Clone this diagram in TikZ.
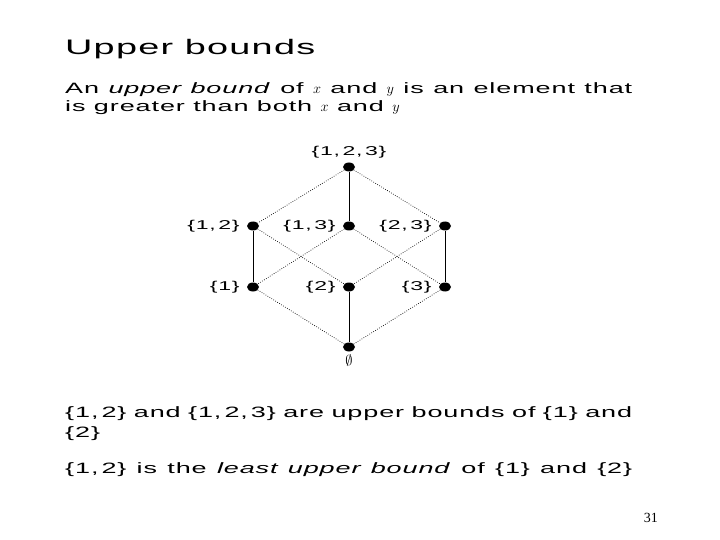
\documentclass[tikz,border=0pt]{standalone}
\usepackage{fontspec}
\setmainfont[FakeStretch=1.8,LetterSpace=6]{Liberation Sans}
\newfontfamily\pagefont{Liberation Serif}
\usetikzlibrary{positioning,shapes.geometric}

\tikzset{
  slidetitle/.style={anchor=base west, inner sep=0pt, font=\fontsize{21}{25}\selectfont},
  slidetext/.style={anchor=base west, inner sep=0pt, font=\fontsize{15}{19}\selectfont},
  vertex/.style={ellipse, fill=black, inner sep=0pt, minimum width=12pt, minimum height=9pt},
  setlabel/.style={inner sep=1pt, font=\fontsize{12.8}{15}\selectfont},
  coveredge/.style={line width=1pt},
  dotedge/.style={line width=0.7pt, dash pattern=on 0.7pt off 1.6pt},
}
% a justified line of the slide
\newcommand{\slideline}[1]{\makebox[567pt][s]{#1}}
\newcommand{\sep}{,\kern.2em}

\begin{document}
\begin{tikzpicture}[x=1pt, y=-1pt]
\useasboundingbox (0,0) rectangle (720,540);

\node[slidetitle] (title) at (65,55) {Upper bounds};
\node[slidetext] (intro1) at (65,94) {\slideline{An \emph{upper bound} of $x$ and $y$ is an element that}};
\node[slidetext] (intro2) at (65,112) {is greater than both $x$ and $y$};

% the lattice of subsets
\node[vertex] (v123) at (349,167) {};
\node[vertex] (v12) at (253,226) {};
\node[vertex] (v13) at (349,226) {};
\node[vertex] (v23) at (445,226) {};
\node[vertex] (v1) at (253,287) {};
\node[vertex] (v2) at (349,287) {};
\node[vertex] (v3) at (445,287) {};
\node[vertex] (v0) at (349,347) {};

\node[setlabel, above=3pt of v123] (l123) {\{1\sep 2\sep 3\}};
\node[setlabel, left=6pt of v12] (l12) {\{1\sep 2\}};
\node[setlabel, left=6pt of v13] (l13) {\{1\sep 3\}};
\node[setlabel, left=6pt of v23] (l23) {\{2\sep 3\}};
\node[setlabel, left=6pt of v1] (l1) {\{1\}};
\node[setlabel, left=6pt of v2] (l2) {\{2\}};
\node[setlabel, left=6pt of v3] (l3) {\{3\}};
\node[setlabel, below=2pt of v0, font=\fontsize{15}{17}\selectfont] (l0) {$\emptyset$};

\draw[coveredge] (v123) -- (v13);
\draw[coveredge] (v12) -- (v1);
\draw[coveredge] (v23) -- (v3);
\draw[coveredge] (v2) -- (v0);
\draw[dotedge] (v123) -- (v12);
\draw[dotedge] (v123) -- (v23);
\draw[dotedge] (v12) -- (v2);
\draw[dotedge] (v13) -- (v1);
\draw[dotedge] (v13) -- (v3);
\draw[dotedge] (v23) -- (v2);
\draw[dotedge] (v1) -- (v0);
\draw[dotedge] (v3) -- (v0);

\node[slidetext] (ub1) at (65,417) {\slideline{\{1\sep 2\} and \{1\sep 2\sep 3\} are upper bounds of \{1\} and}};
\node[slidetext] (ub2) at (65,437) {\{2\}};
\node[slidetext] (lub) at (65,473) {\slideline{\{1\sep 2\} is the \emph{least upper bound} of \{1\} and \{2\}}};

\node[anchor=base east, inner sep=0pt, font=\pagefont\fontsize{14}{16}\selectfont] (page) at (658,522) {31};
\end{tikzpicture}
\end{document}
